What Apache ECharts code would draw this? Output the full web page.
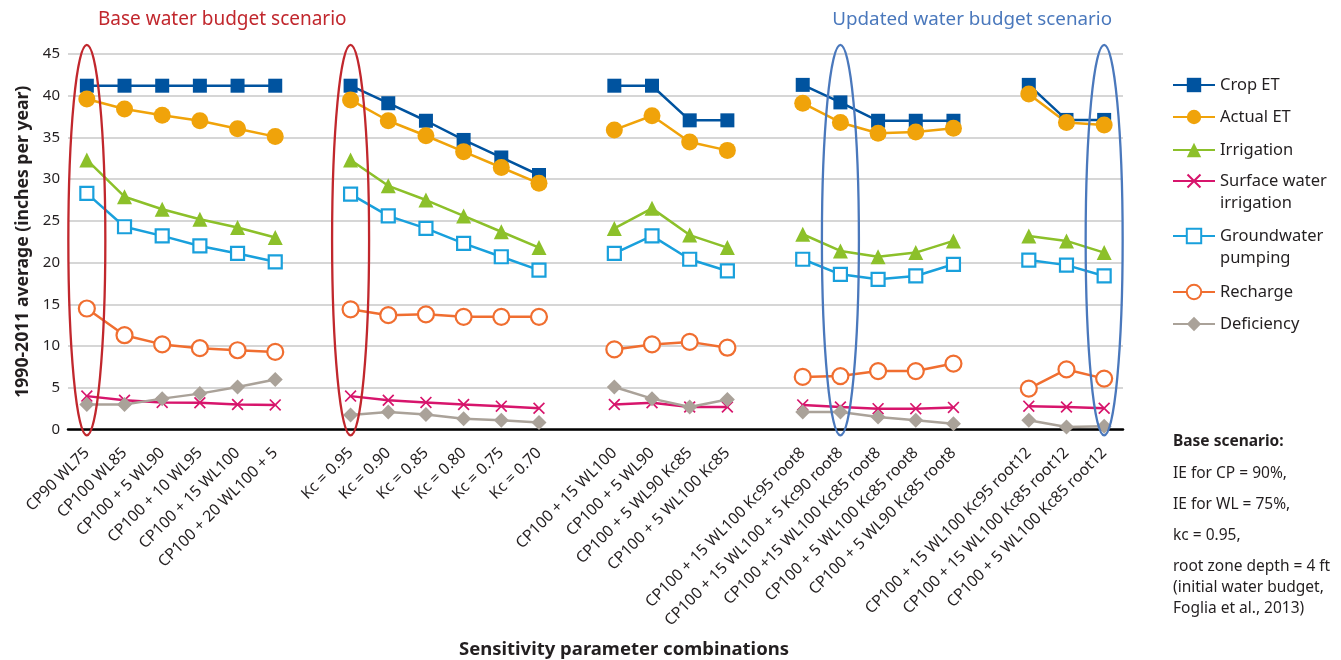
<!DOCTYPE html>
<html>
<head>
<meta charset="utf-8">
<script src="https://cdn.jsdelivr.net/npm/echarts@6/dist/echarts.min.js"></script>
<style>
html,body{margin:0;padding:0;background:#fff;}
#chart{width:1341px;height:660px;}
</style>
</head>
<body>
<div id="chart"></div>
<script>
// Categories (blank-looking entries are the gaps between scenario groups)
const categories = [
  'CP90 WL75','CP100 WL85','CP100 + 5 WL90','CP100 + 10 WL95','CP100 + 15 WL100','CP100 + 20 WL100 + 5',
  ' ',
  'Kc = 0.95','Kc = 0.90','Kc = 0.85','Kc = 0.80','Kc = 0.75','Kc = 0.70',
  '  ',
  'CP100 + 15 WL100','CP100 + 5 WL90','CP100 + 5 WL90 Kc85','CP100 + 5 WL100 Kc85',
  '   ',
  'CP100 + 15 WL100 Kc95 root8','CP100 + 15 WL100 + 5 Kc90 root8','CP100 +15 WL100 Kc85 root8','CP100 + 5 WL100 Kc85 root8','CP100 + 5 WL90 Kc85 root8',
  '    ',
  'CP100 + 15 WL100 Kc95 root12','CP100 + 15 WL100 Kc85 root12','CP100 + 5 WL100 Kc85 root12'
];

const cropET      = [41.2,41.2,41.2,41.2,41.2,41.2,null, 41.2,39.1,37.0,34.7,32.6,30.5,null, 41.2,41.2,37.05,37.05,null, 41.3,39.2,37.0,37.0,37.0,null, 41.3,37.1,37.1];
const actualET    = [39.6,38.4,37.65,37.0,36.05,35.1,null, 39.5,37.0,35.2,33.3,31.4,29.5,null, 35.9,37.6,34.45,33.45,null, 39.1,36.8,35.5,35.65,36.1,null, 40.2,36.8,36.5];
const irrigation  = [32.3,27.9,26.4,25.2,24.2,23.0,null, 32.3,29.2,27.5,25.6,23.7,21.8,null, 24.1,26.5,23.3,21.8,null, 23.4,21.4,20.7,21.2,22.6,null, 23.2,22.6,21.2];
const surfaceIrr  = [4.0,3.5,3.25,3.2,3.0,2.95,null, 4.0,3.5,3.25,3.0,2.8,2.55,null, 3.0,3.2,2.7,2.7,null, 2.95,2.7,2.5,2.5,2.65,null, 2.8,2.7,2.55];
const groundwater = [28.3,24.3,23.2,22.0,21.1,20.1,null, 28.2,25.6,24.1,22.3,20.7,19.1,null, 21.1,23.2,20.4,19.0,null, 20.4,18.6,18.0,18.4,19.8,null, 20.3,19.7,18.4];
const recharge    = [14.5,11.3,10.2,9.75,9.5,9.3,null, 14.4,13.7,13.8,13.5,13.5,13.5,null, 9.6,10.2,10.5,9.8,null, 6.3,6.4,7.0,7.0,7.9,null, 4.9,7.2,6.1];
const deficiency  = [3.0,3.0,3.7,4.3,5.1,6.0,null, 1.75,2.1,1.8,1.3,1.1,0.85,null, 5.1,3.7,2.7,3.6,null, 2.1,2.1,1.5,1.1,0.7,null, 1.1,0.3,0.4];

const seriesNames = ['Crop ET','Actual ET','Irrigation','Surface water\nirrigation','Groundwater\npumping','Recharge','Deficiency'];
const yTicks = {min:0, max:45, interval:5};

// Highlighted categories (index into categories)
const baseHighlights = [0, 7];
const updatedHighlights = [20, 27];

const FONT = '"Noto Sans", "Open Sans", sans-serif';
const TXT = '#231f20';
const RED = '#c1272d';
const BLUE = '#4a78bc';
const XSYM = 'path://M1,0 L5,4 L9,0 L10,1 L6,5 L10,9 L9,10 L5,6 L1,10 L0,9 L4,5 L0,1 Z';

function mkSeries(name, data, color, symbol, size, hollow){
  return {
    name: name, type: 'line', data: data,
    symbol: symbol, symbolSize: size,
    lineStyle: {color: color, width: 2.5},
    itemStyle: hollow ? {color: '#ffffff', borderColor: color, borderWidth: 2.2}
                      : {color: color, borderWidth: 0},
    emphasis: {disabled: true},
    animation: false
  };
}

const series = [
  mkSeries(seriesNames[0], cropET, '#00539f', 'rect', 14, false),
  mkSeries(seriesNames[1], actualET, '#f0a30a', 'circle', 17, false),
  mkSeries(seriesNames[2], irrigation, '#8cc02a', 'triangle', 15, false),
  mkSeries(seriesNames[3], surfaceIrr, '#d7156c', XSYM, 12, false),
  mkSeries(seriesNames[4], groundwater, '#19a0dc', 'rect', 13, true),
  mkSeries(seriesNames[5], recharge, '#f06e30', 'circle', 16, true),
  mkSeries(seriesNames[6], deficiency, '#aaa299', 'diamond', 15, false)
];

// legend marker rows; two-line entries get a blank leading line so the marker sits on line one
const legendRows = [83, 115, 148, 181, 236, 290, 322];
const LH = 18;
const legends = seriesNames.map((n, i) => {
  const twoLine = n.indexOf('\n') >= 0;
  return {
    data: [n], left: 1172, top: legendRows[i] - (twoLine ? 33 : LH / 2), padding: 0,
    itemWidth: 42, itemHeight: LH, itemGap: 0,
    selectedMode: false,
    formatter: twoLine ? (nm => ' \n' + nm) : undefined,
    textStyle: {fontFamily: FONT, fontSize: 16.5, color: TXT, lineHeight: 22}
  };
});

const chart = echarts.init(document.getElementById('chart'), null, {renderer: 'canvas'});
chart.setOption({
  backgroundColor: '#ffffff',
  animation: false,
  textStyle: {fontFamily: FONT},
  grid: {left: 68, right: 218, top: 54, bottom: 230.5, containLabel: false},
  legend: legends,
  xAxis: {
    type: 'category', data: categories, boundaryGap: true,
    axisLine: {show: true, lineStyle: {color: '#000', width: 2.5}},
    axisTick: {show: false},
    axisLabel: {interval: 0, rotate: 45, margin: 21, fontFamily: FONT, fontSize: 15.7, color: TXT}
  },
  yAxis: {
    type: 'value', min: yTicks.min, max: yTicks.max, interval: yTicks.interval,
    name: '1990-2011 average (inches per year)', nameLocation: 'middle', nameGap: 27,
    nameTextStyle: {fontFamily: FONT, fontSize: 17.6, fontWeight: 'bold', color: TXT},
    axisLine: {show: false}, axisTick: {show: false},
    axisLabel: {margin: 8, fontFamily: FONT, fontSize: 15, color: TXT},
    splitLine: {lineStyle: {color: '#c8c8c8', width: 1.5}}
  },
  series: series
});

// Annotations positioned through the axes
function ellipseAt(idx, color){
  const c = chart.convertToPixel({xAxisIndex: 0, yAxisIndex: 0}, [idx, 22.7]);
  const t = chart.convertToPixel({xAxisIndex: 0, yAxisIndex: 0}, [idx, 46.1]);
  return {type: 'ellipse', shape: {cx: c[0], cy: c[1], rx: 18.5, ry: c[1] - t[1]},
          style: {fill: 'none', stroke: color, lineWidth: 2.3}, z: 100, silent: true};
}
const gfx = [];
baseHighlights.forEach(i => gfx.push(ellipseAt(i, RED)));
updatedHighlights.forEach(i => gfx.push(ellipseAt(i, BLUE)));
function txt(s, x, y, opts){
  return {type: 'text', x: x, y: y, z: 100, silent: true,
    style: Object.assign({text: s, fill: TXT, fontFamily: FONT, fontSize: 15.5,
                          textAlign: 'left', textVerticalAlign: 'middle'}, opts || {})};
}
gfx.push(txt('Base water budget scenario', 98, 20, {fill: RED, fontSize: 19}));
gfx.push(txt('Updated water budget scenario', 1112, 20, {fill: BLUE, fontSize: 18.8, textAlign: 'right'}));
gfx.push(txt('Sensitivity parameter combinations', 624, 650, {fontSize: 18.5, fontWeight: 'bold', textAlign: 'center'}));
gfx.push(txt('Base scenario:', 1173, 442, {fontWeight: 'bold'}));
gfx.push(txt('IE for CP = 90%,', 1173, 474));
gfx.push(txt('IE for WL = 75%,', 1173, 505));
gfx.push(txt('kc = 0.95,', 1173, 536));
gfx.push(txt('root zone depth = 4 ft', 1173, 567));
gfx.push(txt('(initial water budget,', 1173, 588));
gfx.push(txt('Foglia et al., 2013)', 1173, 609));
chart.setOption({graphic: gfx});
</script>
</body>
</html>
